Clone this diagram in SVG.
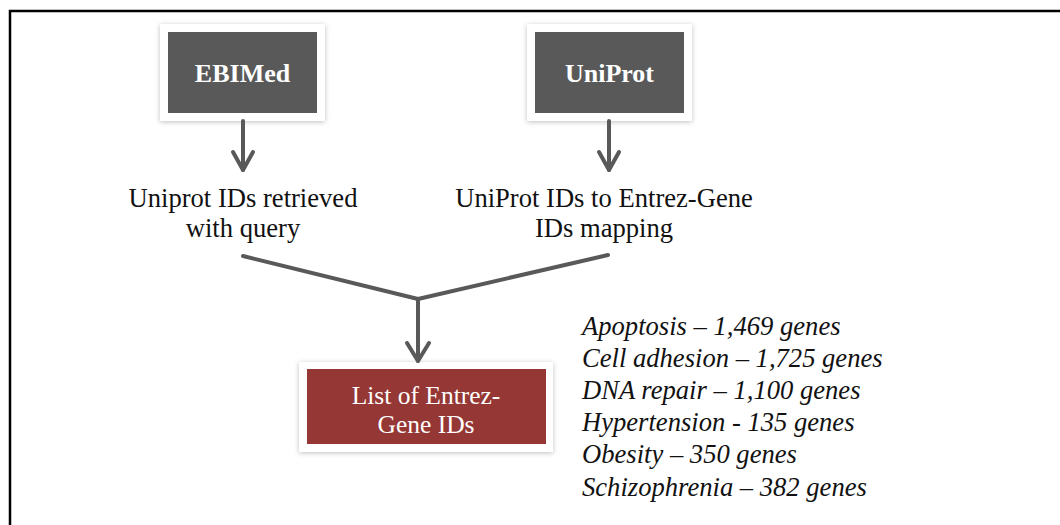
<svg xmlns="http://www.w3.org/2000/svg" width="1060" height="525" viewBox="0 0 1060 525">
  <style>
    .card { fill: #ffffff; filter: url(#shadow); }
    .dark { fill: #595959; }
    .red { fill: #953735; }
    .head { font-family: "Liberation Serif", "Times New Roman", serif; font-weight: bold; font-size: 26px; fill: #ffffff; text-anchor: middle; }
    .lbl { font-family: "Liberation Serif", "Times New Roman", serif; font-size: 26.6px; fill: #111111; text-anchor: middle; }
    .wlbl { font-family: "Liberation Serif", "Times New Roman", serif; font-size: 25.5px; fill: #ffffff; text-anchor: middle; }
    .ital { font-family: "Liberation Serif", "Times New Roman", serif; font-style: italic; font-size: 26.6px; fill: #111111; }
    .conn { stroke: #595959; stroke-width: 4; fill: none; stroke-linecap: round; stroke-linejoin: round; }
  </style>
  <defs>
    <filter id="shadow" x="-20%" y="-20%" width="140%" height="140%">
      <feDropShadow dx="0" dy="1" stdDeviation="2.5" flood-color="#000000" flood-opacity="0.25"/>
    </filter>
  </defs>
  <rect x="0" y="0" width="1060" height="525" fill="#ffffff"/>
  <path d="M10 525 V11 H1062" fill="none" stroke="#000000" stroke-width="2.5"/>

  <g id="ebimed">
    <rect class="card" x="160" y="24" width="165" height="97"/>
    <rect class="dark" x="168" y="32" width="149" height="81"/>
    <text class="head" x="242.5" y="82">EBIMed</text>
  </g>

  <g id="uniprot">
    <rect class="card" x="527" y="24" width="165" height="97"/>
    <rect class="dark" x="535" y="32" width="149" height="81"/>
    <text class="head" x="609.5" y="82">UniProt</text>
  </g>

  <g id="uniprot-ids">
    <text class="lbl" x="243" y="207">Uniprot IDs retrieved</text>
    <text class="lbl" x="243" y="237">with query</text>
  </g>

  <g id="mapping">
    <text class="lbl" x="604" y="207">UniProt IDs to Entrez-Gene</text>
    <text class="lbl" x="604" y="237">IDs mapping</text>
  </g>

  <g id="entrez-list">
    <rect class="card" x="299" y="362" width="254" height="90"/>
    <rect class="red" x="307" y="369" width="239" height="75"/>
    <text class="wlbl" x="426" y="404">List of Entrez-</text>
    <text class="wlbl" x="426" y="433">Gene IDs</text>
  </g>

  <g id="disease-list">
    <text class="ital" x="582" y="335">Apoptosis – 1,469 genes</text>
    <text class="ital" x="582" y="367">Cell adhesion – 1,725 genes</text>
    <text class="ital" x="582" y="399">DNA repair – 1,100 genes</text>
    <text class="ital" x="582" y="431">Hypertension - 135 genes</text>
    <text class="ital" x="582" y="463">Obesity – 350 genes</text>
    <text class="ital" x="582" y="496">Schizophrenia – 382 genes</text>
  </g>

  <g id="connectors">
    <path class="conn" d="M243 121 V170"/>
    <path class="conn" d="M233 152 L243 170 L253 152"/>
    <path class="conn" d="M609 121 V170"/>
    <path class="conn" d="M599 152 L609 170 L619 152"/>
    <path class="conn" d="M243 256 L418 299 L608 255"/>
    <path class="conn" d="M418 299 V361"/>
    <path class="conn" d="M407 343 L418 361 L429 343"/>
  </g>
</svg>
